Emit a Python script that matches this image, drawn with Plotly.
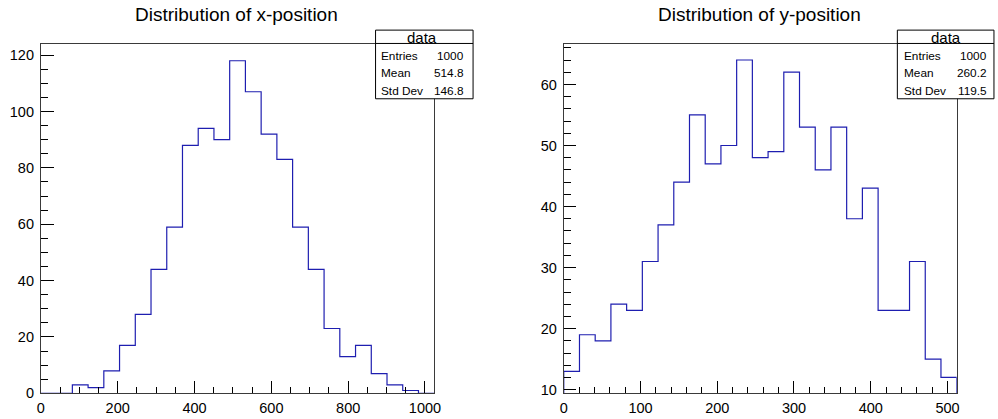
import numpy as np
import plotly.graph_objects as go

# ---------------- data ----------------
x_counts = [0, 0, 3, 2, 8, 17, 28, 44, 59, 88, 94, 90, 118, 107, 92, 83, 59, 44, 23, 13, 17, 7, 3, 1, 0]
x_range = [0, 1024]
y_counts = [13, 19, 18, 24, 23, 31, 37, 44, 55, 47, 50, 64, 48, 49, 62, 53, 46, 53, 38, 43, 23, 23, 31, 15, 12]
y_range = [0, 512]

titles = ["Distribution of x-position", "Distribution of y-position"]
stats_labels = ["Entries", "Mean", "Std Dev"]
x_stats = ["1000", "514.8", "146.8"]
y_stats = ["1000", "260.2", "119.5"]

W, H = 998, 419
FONT = "Liberation Sans, Arial, Helvetica, sans-serif"
LINE = "#1e1eb0"
AX = "#3a3a3a"


def step_xy(counts, rng, base):
    edges = np.linspace(rng[0], rng[1], len(counts) + 1)
    xs, ys = [edges[0]], [base]
    for i, c in enumerate(counts):
        xs += [edges[i], edges[i + 1]]
        ys += [c, c]
    xs.append(edges[-1])
    ys.append(base)
    return xs, ys


def px(x):
    return x / W


def py(y):
    return (H - y) / H


fig = go.Figure()

xl_lo = 0.0
yl_hi = max(x_counts) * 1.05
yr_lo = min(y_counts) - 0.05 * (max(y_counts) - min(y_counts))
yr_hi = max(y_counts) + 0.05 * (max(y_counts) - min(y_counts))

xs, ys = step_xy(x_counts, x_range, 0)
fig.add_trace(go.Scatter(x=xs, y=ys, mode="lines", line=dict(color=LINE, width=1.2),
                         xaxis="x", yaxis="y", showlegend=False, hoverinfo="skip"))
xs, ys = step_xy(y_counts, y_range, yr_lo)
fig.add_trace(go.Scatter(x=xs, y=ys, mode="lines", line=dict(color=LINE, width=1.2),
                         xaxis="x2", yaxis="y2", showlegend=False, hoverinfo="skip"))

tickfont = dict(family=FONT, size=14.5, color="black")
common = dict(showgrid=False, zeroline=False, showline=True, linecolor=AX, linewidth=1,
              mirror=True, ticks="inside", tickcolor="black", tickwidth=1,
              tickfont=tickfont)

ydom = [py(401), py(45)]
fig.update_layout(
    width=W, height=H, margin=dict(l=0, r=0, t=0, b=0),
    paper_bgcolor="white", plot_bgcolor="white",
    xaxis=dict(domain=[px(37.3), px(435)], range=x_range, anchor="y",
               tick0=0, dtick=200, ticklen=12,
               minor=dict(dtick=50, ticklen=6, ticks="inside", tickcolor="black"),
               ticklabelstandoff=1, **common),
    yaxis=dict(domain=ydom, range=[xl_lo, yl_hi], anchor="x",
               tick0=0, dtick=20, ticklen=13,
               minor=dict(dtick=5, ticklen=7, ticks="inside", tickcolor="black"),
               ticklabelstandoff=3, **common),
    xaxis2=dict(domain=[px(566), px(963.3)], range=y_range, anchor="y2",
                tick0=0, dtick=100, ticklen=12,
                minor=dict(dtick=20, ticklen=6, ticks="inside", tickcolor="black"),
                ticklabelstandoff=1, **common),
    yaxis2=dict(domain=ydom, range=[yr_lo, yr_hi], anchor="x2",
                tick0=0, dtick=10, ticklen=12,
                minor=dict(dtick=2, ticklen=7, ticks="inside", tickcolor="black"),
                ticklabelstandoff=3, **common),
)

annotations = []
shapes = []

# titles
for cx, t in zip([235.5, 763.7], titles):
    annotations.append(dict(x=px(cx), y=py(15), xref="paper", yref="paper", text=t,
                            showarrow=False, xanchor="center", yanchor="middle",
                            font=dict(family=FONT, size=19, color="black")))

# stats boxes
boxes = [(375.7, 474.3, x_stats, 379.6, 467.5, 423.0),
         (903.3, 1001.0, y_stats, 908.3, 996.0, 952.0)]
for x0, x1, vals, lx, rx, cx in boxes:
    shapes.append(dict(type="rect", xref="paper", yref="paper",
                       x0=px(x0), x1=px(x1), y0=py(100.7), y1=py(30.7),
                       line=dict(color="black", width=1), fillcolor="white", layer="above"))
    shapes.append(dict(type="line", xref="paper", yref="paper",
                       x0=px(x0), x1=px(x1), y0=py(44.3), y1=py(44.3),
                       line=dict(color="black", width=1), layer="above"))
    annotations.append(dict(x=px(cx), y=py(38), xref="paper", yref="paper", text="data",
                            showarrow=False, xanchor="center", yanchor="middle",
                            font=dict(family=FONT, size=15, color="black")))
    for i, (lab, v) in enumerate(zip(stats_labels, vals)):
        yy = [57.0, 74.0, 92.3][i]
        annotations.append(dict(x=px(lx), y=py(yy), xref="paper", yref="paper", text=lab,
                                showarrow=False, xanchor="left", yanchor="middle",
                                font=dict(family=FONT, size=11.8, color="black")))
        annotations.append(dict(x=px(rx), y=py(yy), xref="paper", yref="paper", text=v,
                                showarrow=False, xanchor="right", yanchor="middle",
                                font=dict(family=FONT, size=11.8, color="black")))

fig.update_layout(annotations=annotations, shapes=shapes)
fig.write_html("out.html")
